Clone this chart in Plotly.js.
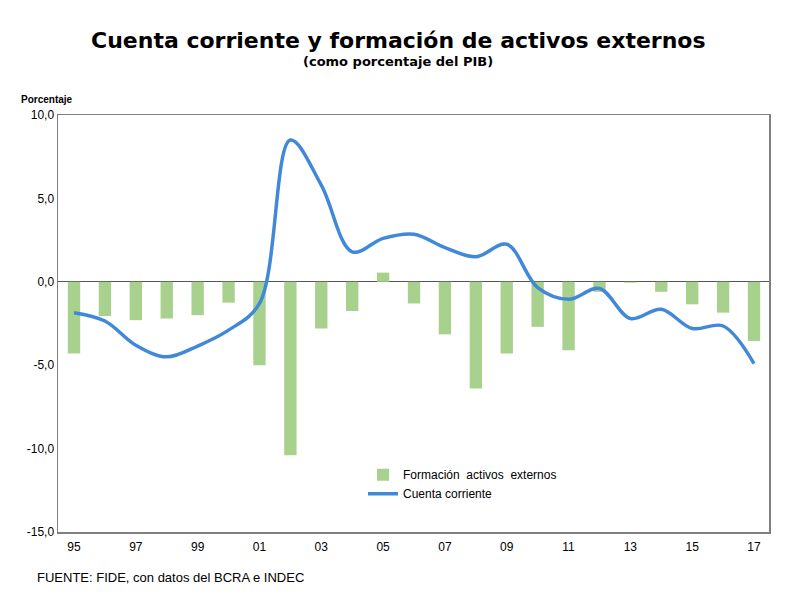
<!DOCTYPE html>
<html>
<head>
<meta charset="utf-8">
<script src="https://cdn.plot.ly/plotly-3.0.1.min.js"></script>
<style>html,body{margin:0;padding:0;background:#fff;}#chart{width:800px;height:600px;}</style>
</head>
<body>
<div id="chart"></div>
<script>
// Years (x positions)
const years = [1995,1996,1997,1998,1999,2000,2001,2002,2003,2004,2005,2006,2007,2008,2009,2010,2011,2012,2013,2014,2015,2016,2017];
// Formación de activos externos (% PIB)
const formacionActivos = [-4.3,-2.05,-2.3,-2.2,-2.0,-1.25,-5.0,-10.4,-2.8,-1.75,0.55,-1.3,-3.15,-6.4,-4.3,-2.7,-4.1,-0.6,-0.05,-0.6,-1.35,-1.85,-3.55];
// Cuenta corriente (% PIB)
const cuentaCorriente = [-1.85,-2.35,-3.8,-4.5,-3.85,-2.9,-1.3,8.5,5.8,1.8,2.6,2.85,2.05,1.5,2.25,-0.35,-1.05,-0.4,-2.2,-1.65,-2.8,-2.65,-4.9];
// Tick labels
const xTickVals = [1995,1997,1999,2001,2003,2005,2007,2009,2011,2013,2015,2017];
const xTickText = ['95','97','99','01','03','05','07','09','11','13','15','17'];
const yTickVals = [-15,-10,-5,0,5,10];
const yTickText = ['-15,0','-10,0','-5,0','0,0','5,0','10,0'];

const traces = [
  {
    type: 'bar', x: years, y: formacionActivos, name: 'Formación  activos  externos',
    width: 0.4, marker: {color: '#a9d18e'}, hoverinfo: 'x+y'
  },
  {
    type: 'scatter', mode: 'lines', x: years, y: cuentaCorriente, name: 'Cuenta corriente',
    line: {color: '#4189d8', width: 3.5, shape: 'spline', smoothing: 1}
  }
];

const layout = {
  width: 800, height: 600,
  paper_bgcolor: '#fff', plot_bgcolor: '#fff',
  margin: {l: 58, r: 31, t: 115, b: 68},
  font: {family: 'Liberation Sans, Arial, sans-serif', size: 12, color: '#000'},
  showlegend: true,
  legend: {
    x: 0.429, y: 0.172, xanchor: 'left', yanchor: 'top',
    bgcolor: 'rgba(0,0,0,0)', font: {size: 12, color: '#000'},
    tracegroupgap: 0, itemwidth: 30
  },
  xaxis: {
    range: [1994.482, 2017.485], tickvals: xTickVals, ticktext: xTickText,
    showgrid: false, zeroline: false, showline: true, mirror: true,
    linecolor: '#7f7f7f', linewidth: 1.5, ticks: '', tickfont: {size: 12},
    ticklabelstandoff: 3
  },
  yaxis: {
    range: [-15, 10], tickvals: yTickVals, ticktext: yTickText,
    showgrid: false, zeroline: true, zerolinecolor: '#555', zerolinewidth: 1,
    showline: true, mirror: true, linecolor: '#7f7f7f', linewidth: 1.5,
    ticks: '', tickfont: {size: 12}
  },
  annotations: [
    {text: '<b>Cuenta corriente y formación de activos externos</b>', xref: 'paper', yref: 'paper',
     x: 0.4782, y: 1, yshift: 75, showarrow: false, xanchor: 'center', yanchor: 'middle',
     font: {size: 22, color: '#000', family: 'DejaVu Sans, sans-serif'}},
    {text: '<b>(como porcentaje del PIB)</b>', xref: 'paper', yref: 'paper',
     x: 0.4782, y: 1, yshift: 54, showarrow: false, xanchor: 'center', yanchor: 'middle',
     font: {size: 13, color: '#000', family: 'DejaVu Sans, sans-serif'}},
    {text: '<b>Porcentaje</b>', xref: 'paper', yref: 'paper',
     x: 0, xshift: -39, y: 1, yshift: 16, showarrow: false, xanchor: 'left', yanchor: 'middle',
     font: {size: 10, color: '#000'}},
    {text: 'FUENTE: FIDE, con datos del BCRA e INDEC', xref: 'paper', yref: 'paper',
     x: 0, xshift: -23, y: 0, yshift: -45, showarrow: false, xanchor: 'left', yanchor: 'middle',
     font: {size: 13, color: '#000'}}
  ]
};

Plotly.newPlot('chart', traces, layout, {displayModeBar: false, staticPlot: true});
</script>
</body>
</html>
